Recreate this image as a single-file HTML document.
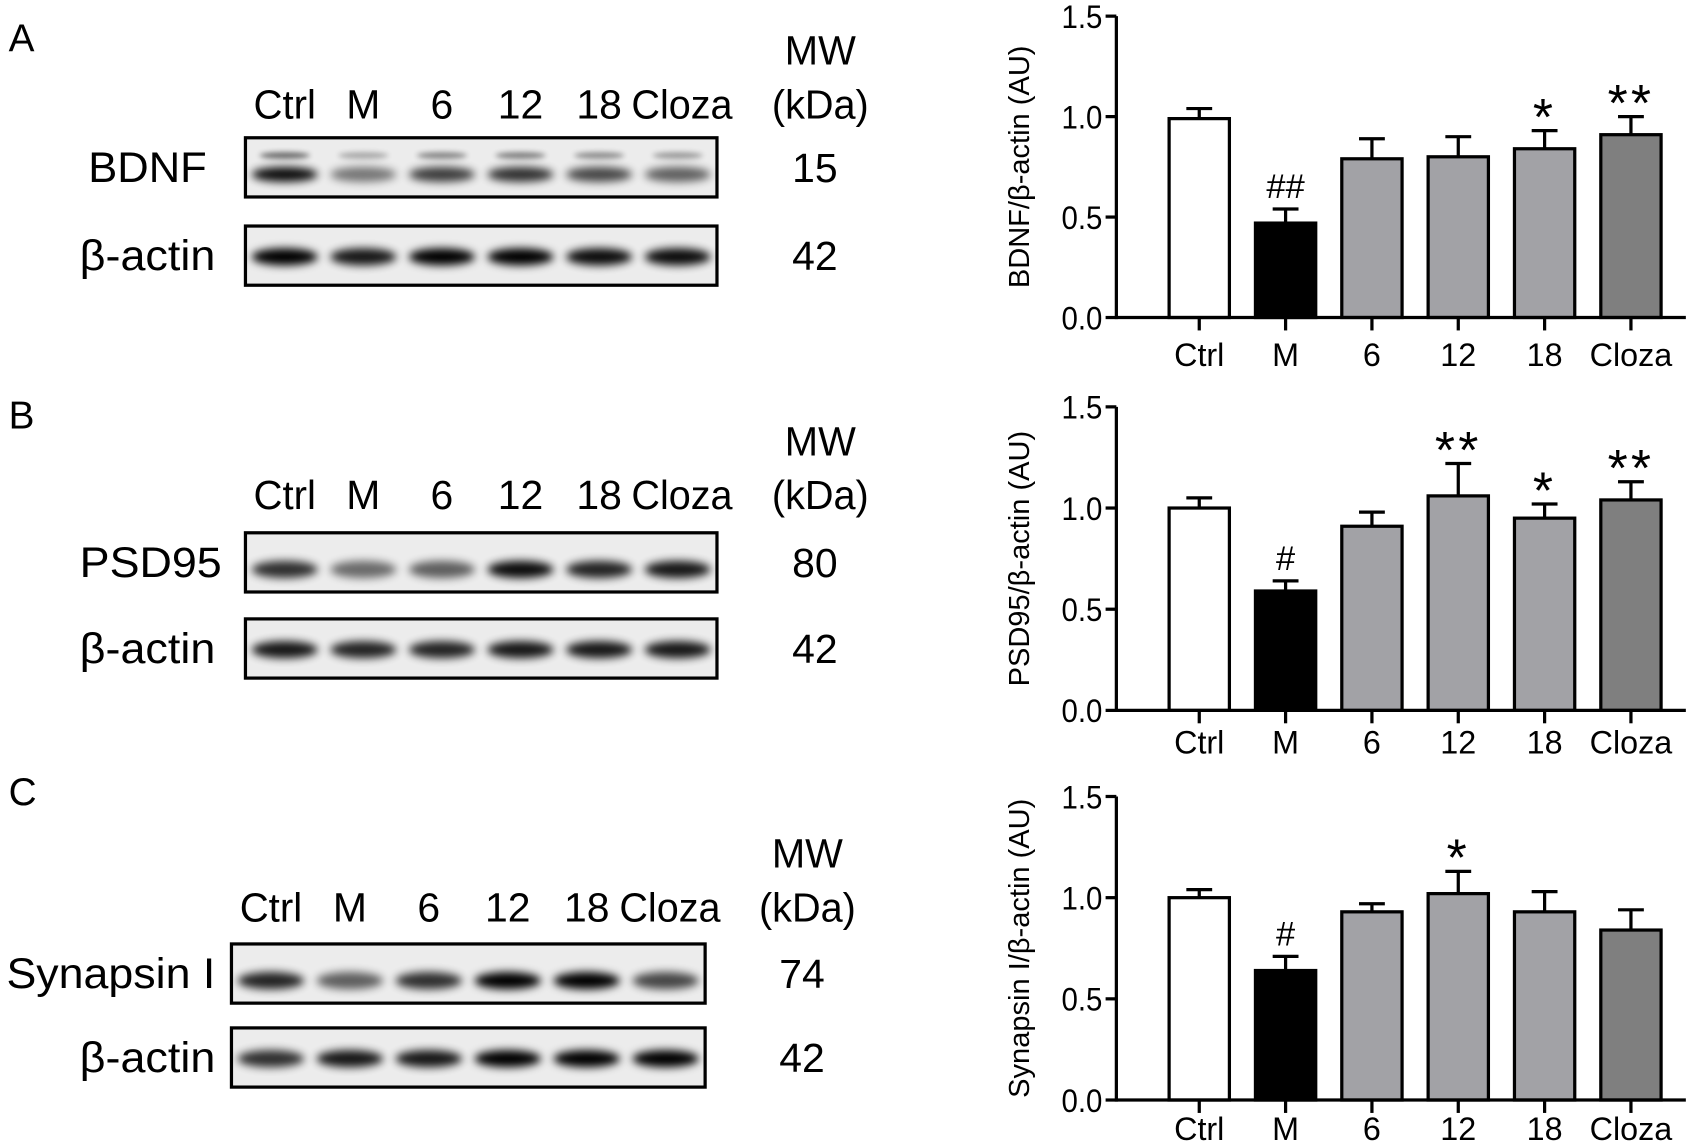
<!DOCTYPE html>
<html><head><meta charset="utf-8"><style>
html,body{margin:0;padding:0;background:#fff;}
svg{display:block;font-family:"Liberation Sans",Arial,sans-serif;}
</style></head><body>
<svg id="fig" width="1688" height="1142" viewBox="0 0 1568 1061" preserveAspectRatio="none">
<defs>
<filter id="blur" x="-50%" y="-100%" width="200%" height="300%"><feGaussianBlur stdDeviation="4"/></filter>
<filter id="blur2" x="-50%" y="-100%" width="200%" height="300%"><feGaussianBlur stdDeviation="2.5"/></filter>
</defs>
<g id="blots"></g>
<g id="charts"></g>
</svg>
<script>
// ---------- chart data ----------
const categories = ["Ctrl","M","6","12","18","Cloza"];
const bdnfValues = [0.99,0.47,0.79,0.80,0.84,0.91];
const bdnfErrors = [0.05,0.07,0.10,0.10,0.09,0.09];
const bdnfMarks = ["","##","","","*","**"];
const psdValues = [1.00,0.59,0.91,1.06,0.95,1.04];
const psdErrors = [0.05,0.05,0.07,0.16,0.07,0.09];
const psdMarks = ["","#","","**","*","**"];
const synValues = [1.00,0.64,0.93,1.02,0.93,0.84];
const synErrors = [0.04,0.07,0.04,0.11,0.10,0.10];
const synMarks = ["","#","","*","",""];
const yTicks = [0.0,0.5,1.0,1.5];
const yTickLabels = ["0.0","0.5","1.0","1.5"];
const barColors = ["#ffffff","#000000","#a2a2a6","#a2a2a6","#a2a2a6","#7f7f7f"];

const NS="http://www.w3.org/2000/svg";
function mk(tag,parent){const e=document.createElementNS(NS,tag);parent.appendChild(e);return e;}
function txt(parent,x,y,s,size,anchor,len){
  const t=mk('text',parent);
  t.setAttribute('x',x);t.setAttribute('y',y);t.setAttribute('font-size',size);
  t.setAttribute('text-anchor',anchor||'middle');
  if(len){t.setAttribute('textLength',len);t.setAttribute('lengthAdjust','spacingAndGlyphs');}
  t.textContent=s;return t;
}

const charts=document.getElementById('charts');
function drawChart(top,zero,title,values,errors,marks,key,labOff){
  const g=mk('g',charts);
  
  
  const axX=1037, xEnd=1566;
  const yScale=v=>zero-(zero-top)*v/1.5;
  const xCenter=i=>1114+i*80.2;
  const bw=56;
  values.forEach((v,i)=>{
    const cx=xCenter(i), y=yScale(v), ye=yScale(v+errors[i]);
    const eb=mk('line',g);
    
    
    eb.setAttribute('x1',cx);eb.setAttribute('x2',cx);eb.setAttribute('y1',y);eb.setAttribute('y2',ye);
    eb.setAttribute('stroke','#000');eb.setAttribute('stroke-width','3');
    const cap=mk('line',g);
    
    
    cap.setAttribute('x1',cx-12);cap.setAttribute('x2',cx+12);cap.setAttribute('y1',ye);cap.setAttribute('y2',ye);
    cap.setAttribute('stroke','#000');cap.setAttribute('stroke-width','3');
    const r=mk('rect',g);
    
    
    r.setAttribute('x',cx-bw/2);r.setAttribute('y',y);r.setAttribute('width',bw);r.setAttribute('height',zero-y);
    r.setAttribute('fill',barColors[i]);r.setAttribute('stroke','#000');r.setAttribute('stroke-width','3');
    if(marks[i]){
      let m;
      if(marks[i].includes('*')){
        m=txt(g,cx,ye+4,marks[i],48,'middle');
        m.setAttribute('letter-spacing','3');
      } else {
        m=txt(g,cx,ye-10,marks[i],32,'middle');
      }
      
      
    }
    const tk=mk('line',g);
    
    
    tk.setAttribute('x1',cx);tk.setAttribute('x2',cx);tk.setAttribute('y1',zero);tk.setAttribute('y2',zero+12);
    tk.setAttribute('stroke','#000');tk.setAttribute('stroke-width','3');
    const lb=txt(g,cx,zero+labOff,categories[i],30,'middle');
    
    
  });
  const ya=mk('line',g);
  
  ya.setAttribute('x1',axX);ya.setAttribute('x2',axX);ya.setAttribute('y1',yScale(1.5));ya.setAttribute('y2',zero+1.5);
  ya.setAttribute('stroke','#000');ya.setAttribute('stroke-width','3');
  const xa=mk('line',g);
  
  xa.setAttribute('x1',axX);xa.setAttribute('x2',xEnd);xa.setAttribute('y1',zero);xa.setAttribute('y2',zero);
  xa.setAttribute('stroke','#000');xa.setAttribute('stroke-width','3');
  yTicks.forEach((t,i)=>{
    const y=yScale(t);
    const l=mk('line',g);
    
    l.setAttribute('x1',axX-10);l.setAttribute('x2',axX);l.setAttribute('y1',y);l.setAttribute('y2',y);
    l.setAttribute('stroke','#000');l.setAttribute('stroke-width','3');
    const tl=txt(g,axX-13,y+11,yTickLabels[i],30,'end',38);
    
  });
  const tt=txt(g,0,0,title,27,'middle');
  
  tt.setAttribute('transform','translate(956,'+((top+zero)/2)+') rotate(-90)');
}
drawChart(15,295,"BDNF/β-actin (AU)",bdnfValues,bdnfErrors,bdnfMarks,'bdnf',45);
drawChart(378,660,"PSD95/β-actin (AU)",psdValues,psdErrors,psdMarks,'psd95',40);
drawChart(740,1022,"Synapsin I/β-actin (AU)",synValues,synErrors,synMarks,'synapsin',37);

// ---------- blots ----------
const blots=document.getElementById('blots');
const laneLabels=["Ctrl","M","6","12","18","Cloza"];
function blotBox(x,y,w,h,intens,bandY,bandH,name,dbl){
  const g=mk('g',blots);
  
  
  const r=mk('rect',g);
  r.setAttribute('x',x);r.setAttribute('y',y);r.setAttribute('width',w);r.setAttribute('height',h);
  r.setAttribute('fill','#ececec');
  const lw=w/6;
  intens.forEach((a,i)=>{
    const cx=x+lw*(i+0.5);
    const e=mk('ellipse',g);
    e.setAttribute('cx',cx);e.setAttribute('cy',y+h*bandY);e.setAttribute('rx',lw*0.42);e.setAttribute('ry',bandH);
    e.setAttribute('fill','#000');e.setAttribute('opacity',a);e.setAttribute('filter','url(#blur)');
    if(dbl){
      const e2=mk('ellipse',g);
      e2.setAttribute('cx',cx);e2.setAttribute('cy',y+h*0.3);e2.setAttribute('rx',lw*0.32);e2.setAttribute('ry',3);
      e2.setAttribute('fill','#000');e2.setAttribute('opacity',a*0.6);e2.setAttribute('filter','url(#blur2)');
    }
  });
  const b=mk('rect',g);
  b.setAttribute('x',x);b.setAttribute('y',y);b.setAttribute('width',w);b.setAttribute('height',h);
  b.setAttribute('fill','none');b.setAttribute('stroke','#000');b.setAttribute('stroke-width','3');
}
const laneLens=[58,0,0,0,0,94];
function panel(letter,ly,lanesY,boxX,boxW,b1Y,b2Y,protein,protX,protLen,mw,mwX,i1,i2,dbl){
  const g=mk('g',blots);
  
  
  const L=txt(g,8,ly,letter,36,'start');
  
  const lw=boxW/6;
  laneLabels.forEach((s,i)=>{
    const t=txt(g,boxX+lw*(i+0.5)+(i==5?4:0),lanesY,s,38,'middle',laneLens[i]||null);
    
  });
  const m1=txt(g,mwX,lanesY-50,"MW",38,'middle',66);
  
  const m2=txt(g,mwX,lanesY,"(kDa)",38,'middle',90);
  
  blotBox(boxX,b1Y,boxW,55,i1,0.62,dbl?7:8,'blot-'+protein.toLowerCase().replace(' ','-'),dbl);
  blotBox(boxX,b2Y,boxW,55,i2,0.52,8,'blot-beta-actin',false);
  const p=txt(g,protX,b1Y+41,protein,40,'middle',protLen);
  
  const a=txt(g,137,b2Y+41,"β-actin",40,'middle',126);
  
  const w1=txt(g,mwX-5,b1Y+41,mw,38,'middle');
  
  const w2=txt(g,mwX-5,b2Y+41,"42",38,'middle');
  
}
panel('A',48,110,228,438,128,210,'BDNF',137,110,'15',762,[0.95,0.5,0.75,0.8,0.7,0.6],[1,0.9,1,1,0.95,0.95],true);
panel('B',398,473,228,438,495,575,'PSD95',140,132,'80',762,[0.8,0.55,0.6,0.95,0.85,0.9],[0.9,0.85,0.85,0.9,0.9,0.9],false);
panel('C',748,856,215,440,877,955,'Synapsin I',103,194,'74',750,[0.85,0.6,0.8,1,1,0.7],[0.8,0.9,0.9,1,1,1],false);
</script>
</body></html>
